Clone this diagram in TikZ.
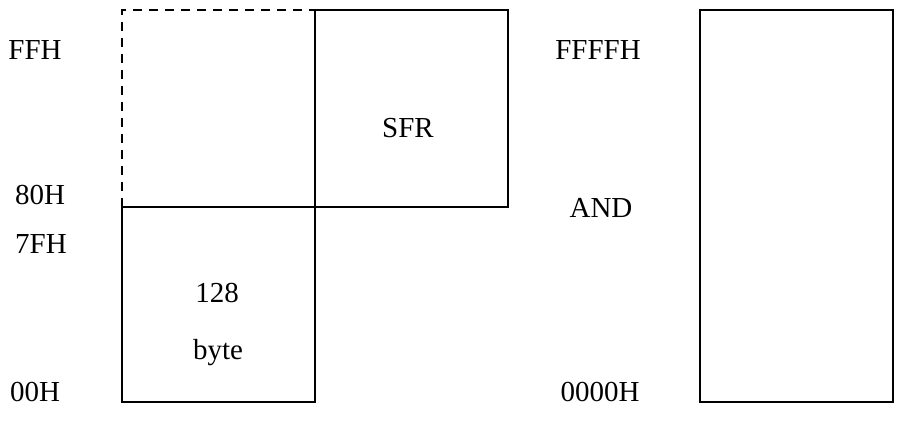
\documentclass[tikz,border=0pt]{standalone}
\usepackage{fontspec}
\setmainfont{Liberation Serif}
\begin{document}
\begin{tikzpicture}[x=1pt,y=-1pt,
  region/.style={draw=black,line width=1.7pt,line join=miter},
  ghost/.style={draw=black,line width=1.7pt,dash pattern=on 9pt off 7pt},
  addr/.style={font=\fontsize{29}{32}\selectfont,inner sep=0pt,anchor=center},
  tag/.style={font=\fontsize{29}{32}\selectfont,inner sep=0pt,anchor=center}]
\useasboundingbox (0,0) rectangle (897,427);

% internal data memory
\draw[ghost] (122,207) -- (122,10) -- (315,10);
\draw[region] (315,10) rectangle (508,207);
\draw[region] (122,207) rectangle (315,402);

% external memory
\draw[region] (700,10) rectangle (893,402);

% address labels, left map
\node[addr] (ffh) at (35,50) {FFH};
\node[addr] (h80) at (40,195) {80H};
\node[addr] (h7f) at (41,244) {7FH};
\node[addr] (h00) at (35,392) {00H};

% region contents
\node[tag] (sfr) at (408,128) {SFR};
\node[tag] (n128) at (217,293) {128};
\node[tag] (byte) at (218,353) {byte};

% address labels, right map
\node[addr] (ffffh) at (598,50) {FFFFH};
\node[addr] (andl) at (601,208) {AND};
\node[addr] (h0000) at (600,392) {0000H};
\end{tikzpicture}
\end{document}
